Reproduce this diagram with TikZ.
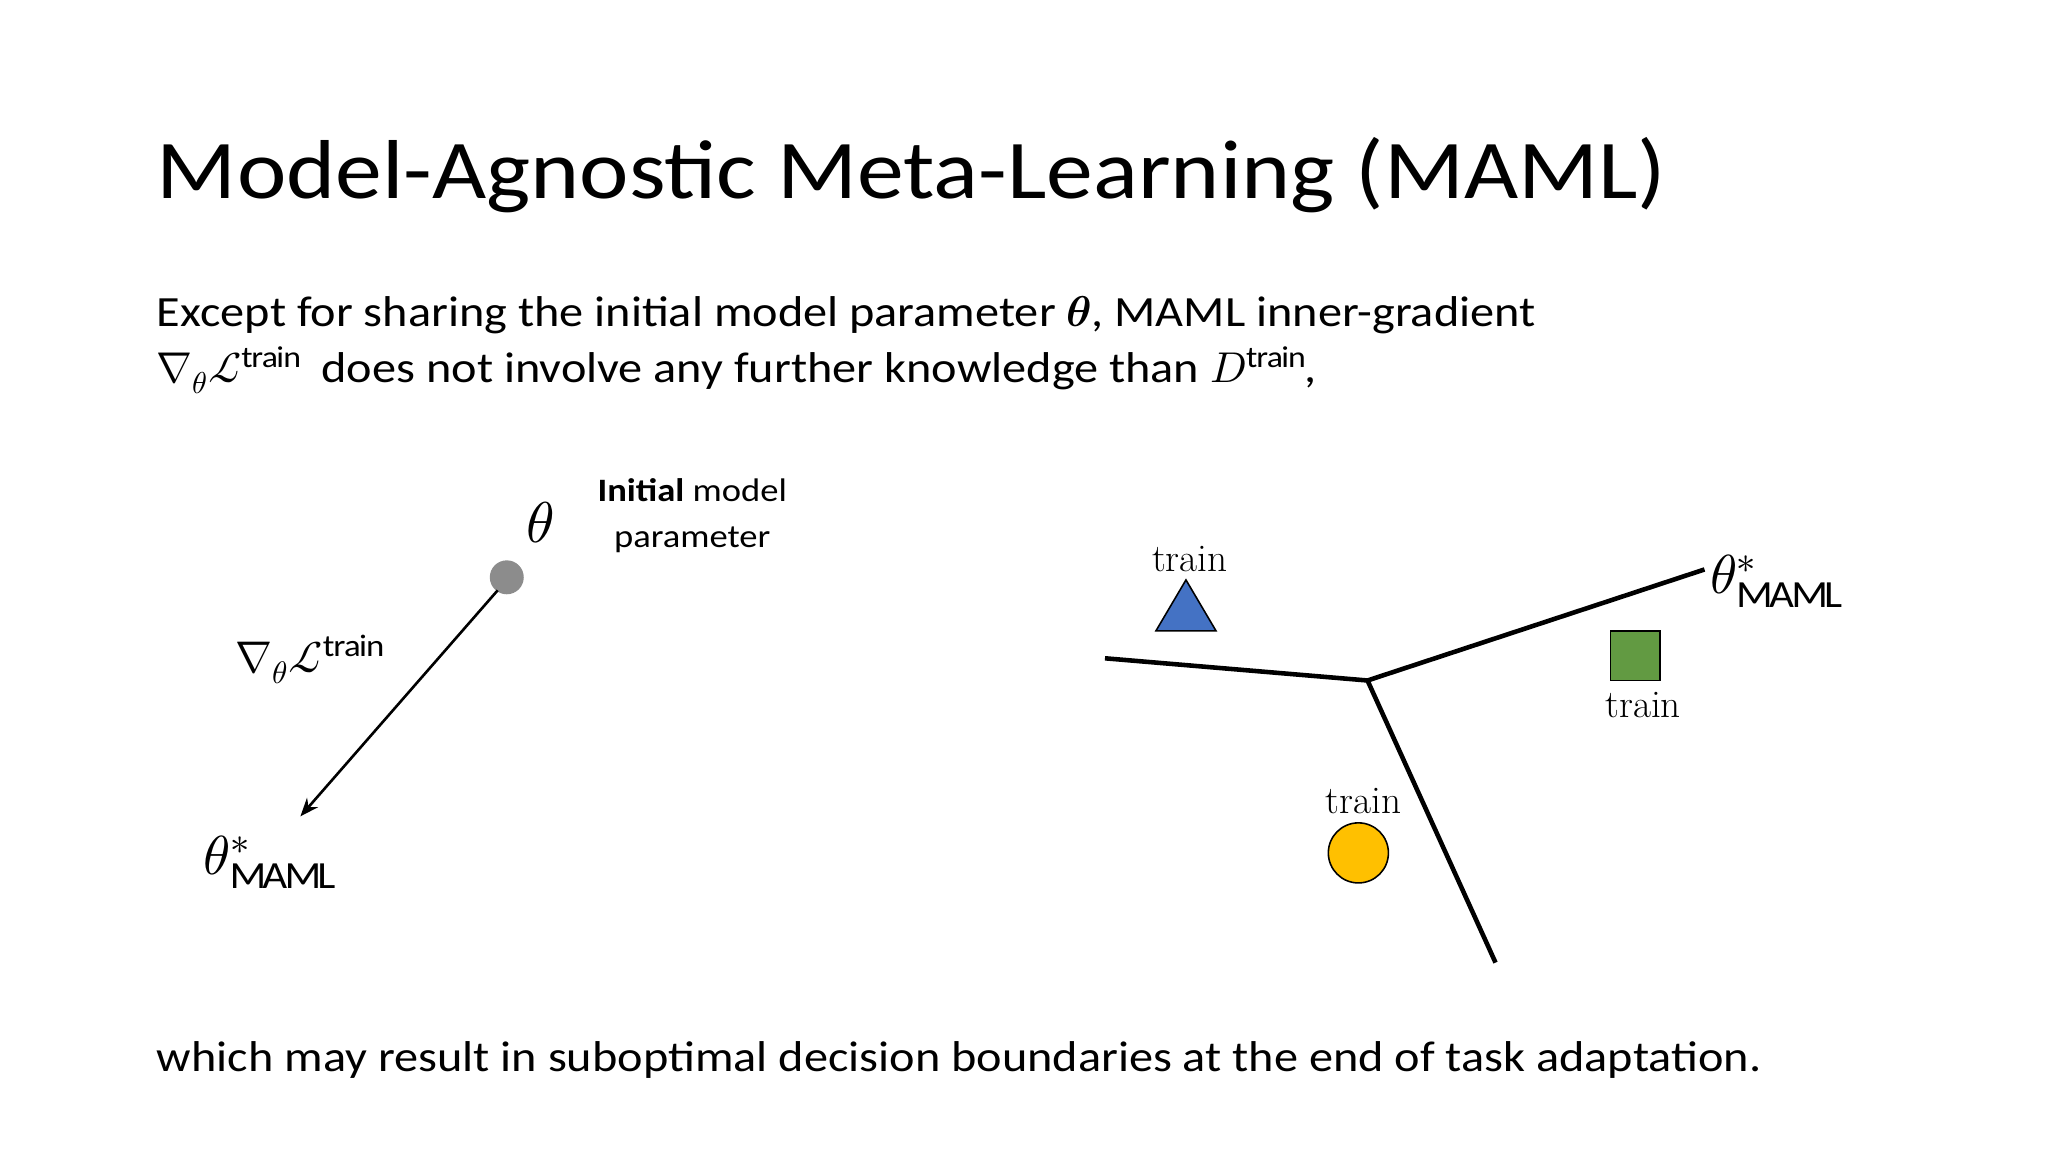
\documentclass[tikz,border=0pt]{standalone}
\usepackage{amsmath}
\usepackage{fontspec}
\usepackage{unicode-math}
\setmainfont{Carlito}[FakeStretch=1.12]
\setmathfont{Latin Modern Math}
\newfontfamily\trnfont{Latin Modern Roman}
\usetikzlibrary{arrows.meta}
\definecolor{tblue}{RGB}{68,114,196}
\definecolor{tgreen}{RGB}{98,154,66}
\definecolor{tyellow}{RGB}{255,192,0}
\begin{document}
\begin{tikzpicture}[x=1pt,y=-1pt,
  blk/.style={line width=3.5pt,black},
  trn/.style={font=\fontsize{30}{30}\selectfont\trnfont},
  body/.style={anchor=base west,inner sep=0,font=\fontsize{33}{40}\selectfont}]
\useasboundingbox (0,0) rectangle (1568,882);
\fill[white] (0,0) rectangle (1568,882);
\node[body,font=\fontsize{64}{70}\selectfont] (title) at (120,152) {Model-Agnostic Meta-Learning (MAML)};
\node[body] (l1) at (120,250) {Except for sharing the initial model parameter $\symbfit{\theta}$, MAML inner-gradient};
\node[body] (l2) at (120,293) {$\nabla_{\theta}\mathcal{L}^{\mathrm{train}}$\ \ does not involve any further knowledge than $D^{\mathrm{train}}$,};
\node[body] (l3) at (120,820) {which may result in suboptimal decision boundaries at the end of task adaptation.};
% left
\node[font=\fontsize{44}{44}\selectfont] (th) at (414,400) {$\theta$};
\fill[gray!90] (388,442) circle (13);
\node (d) at (388,442) {};
\coordinate (tip) at (230,625);
\draw[line width=2pt,-{Stealth[length=14pt,width=11pt]}] (381,452) -- (tip);
\node[align=center,font=\fontsize{25}{35}\selectfont] (init) at (530,395) {\textbf{Initial} model\\parameter};
\node[font=\fontsize{34}{34}\selectfont] (grad) at (237,505) {$\nabla_{\theta}\mathcal{L}^{\mathrm{train}}$};
\node[font=\fontsize{42}{42}\selectfont] (tm) at (206,660) {$\theta^{*}_{\mathrm{MAML}}$};
% right
\coordinate (c) at (1047,521);
\coordinate (a1) at (846,504);
\coordinate (a2) at (1305,436);
\coordinate (a3) at (1145,737);
\draw[blk] (a1) -- (c) -- (a2);
\draw[blk] (c) -- (a3);
\draw[fill=tblue,line width=1.2pt] (885,483) -- (931,483) -- (908,444) -- cycle;
\node[trn] (t1) at (911,428) {train};
\draw[fill=tgreen,line width=1.2pt] (1233,483) rectangle (1271,521);
\node[trn] (t2) at (1258,540) {train};
\draw[fill=tyellow,line width=1.2pt] (1040,653) circle (23);
\node[trn] (t3) at (1044,613) {train};
\node[font=\fontsize{42}{42}\selectfont,anchor=west] (tr) at (1306,445) {$\theta^{*}_{\mathrm{MAML}}$};
\end{tikzpicture}
\end{document}
